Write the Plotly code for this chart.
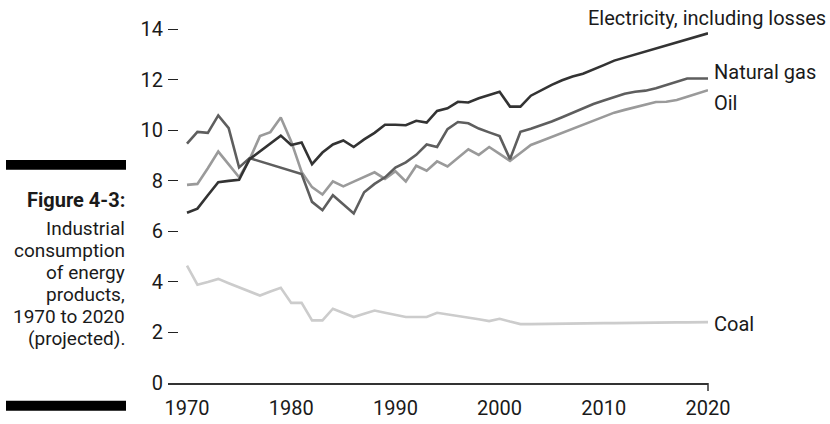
import plotly.graph_objects as go

years = [1970, 1971, 1972, 1973, 1974, 1975, 1976, 1977, 1978, 1979,
         1980, 1981, 1982, 1983, 1984, 1985, 1986, 1987, 1988, 1989,
         1990, 1991, 1992, 1993, 1994, 1995, 1996, 1997, 1998, 1999,
         2000, 2001, 2002, 2003, 2004, 2005, 2006, 2007, 2008, 2009,
         2010, 2011, 2012, 2013, 2014, 2015, 2016, 2017, 2018, 2019, 2020]

electricity = [6.74, 6.90, 7.43, 7.95, 8.00, 8.04, 8.86, 9.17, 9.48, 9.79,
               9.42, 9.52, 8.66, 9.12, 9.44, 9.60, 9.34, 9.64, 9.90, 10.22,
               10.22, 10.20, 10.38, 10.31, 10.77, 10.87, 11.13, 11.10, 11.27, 11.40,
               11.53, 10.94, 10.94, 11.37, 11.59, 11.80, 11.98, 12.13, 12.24, 12.40,
               12.58, 12.76, 12.88, 12.99, 13.10, 13.22, 13.33, 13.45, 13.57, 13.70, 13.84]

natural_gas = [9.47, 9.94, 9.90, 10.59, 10.09, 8.53, 8.90, 8.77, 8.65, 8.52,
               8.40, 8.27, 7.17, 6.84, 7.43, 7.05, 6.71, 7.55, 7.88, 8.14,
               8.53, 8.73, 9.03, 9.44, 9.34, 10.05, 10.33, 10.28, 10.07, 9.92,
               9.77, 8.86, 9.94, 10.06, 10.20, 10.35, 10.52, 10.70, 10.87, 11.04,
               11.18, 11.32, 11.45, 11.53, 11.57, 11.67, 11.80, 11.93, 12.05, 12.05, 12.05]

oil = [7.84, 7.88, 8.50, 9.16, 8.65, 8.14, 8.84, 9.77, 9.93, 10.51,
       9.56, 8.35, 7.75, 7.46, 7.98, 7.78, 7.97, 8.15, 8.34, 8.08,
       8.38, 7.98, 8.60, 8.40, 8.77, 8.57, 8.90, 9.25, 9.03, 9.34,
       9.07, 8.79, 9.10, 9.42, 9.58, 9.74, 9.90, 10.06, 10.22, 10.38,
       10.55, 10.70, 10.81, 10.92, 11.03, 11.12, 11.13, 11.20, 11.33, 11.46, 11.59]

coal = [4.65, 3.89, 4.00, 4.12, 3.95, 3.78, 3.62, 3.46, 3.62, 3.77,
        3.17, 3.17, 2.48, 2.48, 2.94, 2.78, 2.61, 2.74, 2.87, 2.78,
        2.69, 2.61, 2.61, 2.61, 2.78, 2.72, 2.65, 2.58, 2.52, 2.45,
        2.54, 2.43, 2.33, 2.33, 2.34, 2.34, 2.35, 2.35, 2.36, 2.36,
        2.37, 2.37, 2.38, 2.38, 2.39, 2.39, 2.40, 2.40, 2.40, 2.41, 2.41]

y_ticks = [0, 2, 4, 6, 8, 10, 12, 14]
x_ticks = [1970, 1980, 1990, 2000, 2010, 2020]

caption_title = "Figure 4-3:"
caption_lines = ["Industrial", "consumption", "of energy", "products,",
                 "1970 to 2020", "(projected)."]

FONT = "Roboto, Arial, sans-serif"
FS = 20
CFS = 19
TXT = "#1a1a1a"
W, H = 830, 424
L, R, T, B = 168, 708, 4, 388

def px(xp):
    return (xp - L) / (R - L)

def py(yp):
    return (B - yp) / (B - T)

fig = go.Figure()
series = [
    ("Coal", coal, "#cccccc"),
    ("Oil", oil, "#9a9a9a"),
    ("Natural gas", natural_gas, "#5e5e5e"),
    ("Electricity, including losses", electricity, "#333333"),
]
for name, vals, col in series:
    fig.add_trace(go.Scatter(x=years, y=vals, mode="lines", name=name,
                             line=dict(color=col, width=2.6),
                             hoverinfo="skip", cliponaxis=False))

fig.update_layout(
    width=W, height=H,
    margin=dict(l=L, r=W - R, t=T, b=H - B, pad=0),
    paper_bgcolor="white", plot_bgcolor="white",
    showlegend=False,
    font=dict(family=FONT, size=FS, color=TXT),
    xaxis=dict(range=[1970 - 19 / 10.42, 2020], tickvals=x_ticks,
               showgrid=False, zeroline=False, showline=True,
               linecolor="#333333", linewidth=1.5, ticks="",
               ticklabelstandoff=6, tickfont=dict(size=FS)),
    yaxis=dict(range=[0, 15], tickvals=y_ticks, showgrid=False,
               zeroline=False, showline=False, ticks="inside",
               ticklen=10, tickwidth=1.3, tickcolor="#222222",
               ticklabelstandoff=4, tickfont=dict(size=FS)),
)

# end tick at 2020
fig.add_shape(type="line", xref="paper", yref="paper", x0=1, x1=1,
              y0=py(388), y1=py(396), line=dict(color="#333333", width=1.5))

# black bars of the caption block
for y0, y1 in [(162, 172), (406, 416)]:
    fig.add_shape(type="rect", xref="paper", yref="paper",
                  x0=px(6), x1=px(126), y0=py(y1), y1=py(y0),
                  fillcolor="black", line=dict(width=0))

fig.add_annotation(text="<b>" + caption_title + "</b>", xref="paper", yref="paper",
                   x=px(126), y=py(203), xanchor="right", yanchor="middle",
                   showarrow=False, borderpad=0, font=dict(size=FS, color=TXT))
for i, line in enumerate(caption_lines):
    fig.add_annotation(text=line, xref="paper", yref="paper",
                       x=px(126), y=py(231.5 + 22.2 * i), xanchor="right",
                       yanchor="middle", showarrow=False, borderpad=0,
                       font=dict(size=CFS, color=TXT))

labels = [("Electricity, including losses", 587, 18),
          ("Natural gas", 713, 73),
          ("Oil", 713, 104),
          ("Coal", 713, 328)]
for txt, xp_, yp_ in labels:
    fig.add_annotation(text=txt, xref="paper", yref="paper", x=px(xp_), y=py(yp_),
                       xanchor="left", yanchor="middle", showarrow=False,
                       borderpad=0, font=dict(size=FS, color=TXT))

fig.write_html(
    "out.html", config=dict(displayModeBar=False),
    post_script=("document.documentElement.style.margin='0';"
                 "document.body.style.margin='0';document.body.style.padding='0';"
                 "document.body.style.overflow='hidden';"
                 "document.documentElement.style.overflow='hidden';"
                 "window.scrollTo(0,0);"))
